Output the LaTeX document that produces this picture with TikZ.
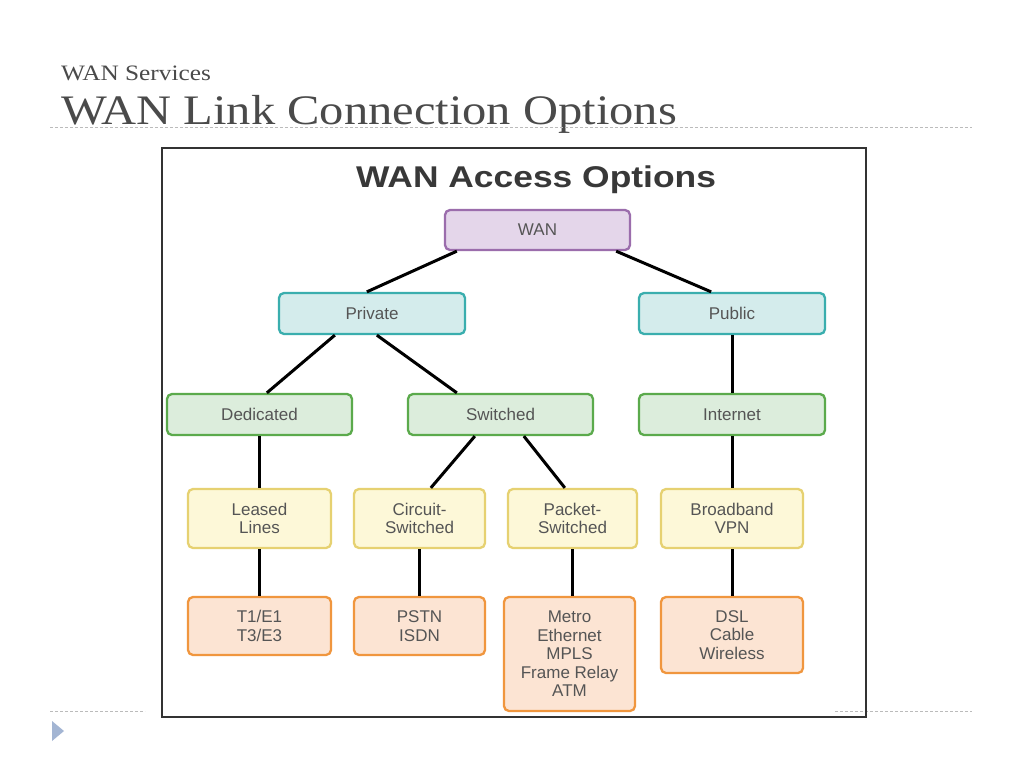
\documentclass[tikz,border=0pt]{standalone}
\usepackage{fontspec}
\setmainfont{Liberation Serif}
\setsansfont{Liberation Sans}
\usetikzlibrary{calc}
\definecolor{txt}{HTML}{555555}
\definecolor{ttl}{HTML}{4A4A4A}
\definecolor{wanfill}{HTML}{E4D6EA}
\definecolor{wanline}{HTML}{9B6DAC}
\definecolor{tealfill}{HTML}{D4ECEC}
\definecolor{tealline}{HTML}{3AAEAE}
\definecolor{grnfill}{HTML}{DCEDDC}
\definecolor{grnline}{HTML}{5BAA4C}
\definecolor{yelfill}{HTML}{FDF8D8}
\definecolor{yelline}{HTML}{E6D171}
\definecolor{orfill}{HTML}{FCE4D3}
\definecolor{orline}{HTML}{F0963E}
\definecolor{dashc}{HTML}{BBBBBB}
\definecolor{tric}{HTML}{A3B5D3}
\begin{document}
\begin{tikzpicture}[x=1pt,y=-1pt,
  box/.style={draw, line width=2.3pt, rounded corners=5pt, align=center,
    font=\sffamily\fontsize{17}{18.5}\selectfont, text=txt, inner sep=0pt},
  purp/.style={box, fill=wanfill, draw=wanline},
  teal/.style={box, fill=tealfill, draw=tealline},
  grn/.style={box, fill=grnfill, draw=grnline},
  yel/.style={box, fill=yelfill, draw=yelline},
  orng/.style={box, fill=orfill, draw=orline},
  link/.style={line width=3pt, black},
  dashline/.style={draw=dashc, line width=0.8pt, dash pattern=on 3pt off 2pt}]
\useasboundingbox (0,0) rectangle (1024,768);
\fill[white] (0,0) rectangle (1024,768);

% slide header
\node[anchor=base west, inner sep=0pt, text=ttl, font=\fontsize{22}{24}\selectfont] (sub) at (61,80) {\scalebox{1.15}[1]{WAN Services}};
\node[anchor=base west, inner sep=0pt, text=ttl, font=\fontsize{42}{46}\selectfont] (title) at (61,124.5) {\scalebox{1.155}[1]{WAN Link Connection Options}};
\draw[dashline] (50,127) -- (972,127);
\draw[dashline] (50,711) -- (145,711);
\draw[dashline] (835,711) -- (972,711);
\fill[tric] (52,721) -- (64,731) -- (52,741) -- cycle;

% frame
\draw[draw=black!80, line width=1.3pt] (162,148) rectangle (866,717);
\node[anchor=base, inner sep=0pt, text=black!78, font=\sffamily\bfseries\fontsize{30}{34}\selectfont] (head) at (536,187) {\scalebox{1.18}[1]{WAN Access Options}};

% nodes
\node[purp, minimum width=185pt, minimum height=40pt] (wan) at (537.5,230) {WAN};
\node[teal, minimum width=186pt, minimum height=41pt] (priv) at (372,313.5) {Private};
\node[teal, minimum width=186pt, minimum height=41pt] (pub) at (732,313.5) {Public};
\node[grn, minimum width=185pt, minimum height=41pt] (ded) at (259.5,414.5) {Dedicated};
\node[grn, minimum width=185pt, minimum height=41pt] (sw) at (500.5,414.5) {Switched};
\node[grn, minimum width=186pt, minimum height=41pt] (inet) at (732,414.5) {Internet};
\node[yel, minimum width=143pt, minimum height=59pt] (leased) at (259.5,518.5) {Leased\\Lines};
\node[yel, minimum width=131pt, minimum height=59pt] (circ) at (419.5,518.5) {Circuit-\\Switched};
\node[yel, minimum width=129pt, minimum height=59pt] (pack) at (572.5,518.5) {Packet-\\Switched};
\node[yel, minimum width=142pt, minimum height=59pt] (bb) at (732,518.5) {Broadband\\VPN};
\node[orng, minimum width=143pt, minimum height=58pt] (t1) at (259.5,626) {T1/E1\\T3/E3};
\node[orng, minimum width=131pt, minimum height=58pt] (pstn) at (419.5,626) {PSTN\\ISDN};
\node[orng, minimum width=131pt, minimum height=114pt] (metro) at (569.5,654) {Metro\\Ethernet\\MPLS\\Frame Relay\\ATM};
\node[orng, minimum width=142pt, minimum height=76pt] (dsl) at (732,635) {DSL\\Cable\\Wireless};

% connectors
\draw[link] ([xshift=13pt]wan.south west) -- ([xshift=89pt]priv.north west);
\draw[link] ([xshift=-15pt]wan.south east) -- ([xshift=-115pt]pub.north east);
\draw[link] ([xshift=57pt]priv.south west) -- ([xshift=101pt]ded.north west);
\draw[link] ([xshift=99pt]priv.south west) -- ([xshift=50pt]sw.north west);
\draw[link] (pub.south) -- (inet.north);
\draw[link] (ded.south) -- (leased.north);
\draw[link] ([xshift=68pt]sw.south west) -- ([xshift=78pt]circ.north west);
\draw[link] ([xshift=117pt]sw.south west) -- ([xshift=58pt]pack.north west);
\draw[link] (inet.south) -- (bb.north);
\draw[link] (leased.south) -- (t1.north);
\draw[link] (circ.south) -- (pstn.north);
\draw[link] (pack.south) -- (pack.south |- metro.north);
\draw[link] (bb.south) -- (dsl.north);
\end{tikzpicture}
\end{document}
